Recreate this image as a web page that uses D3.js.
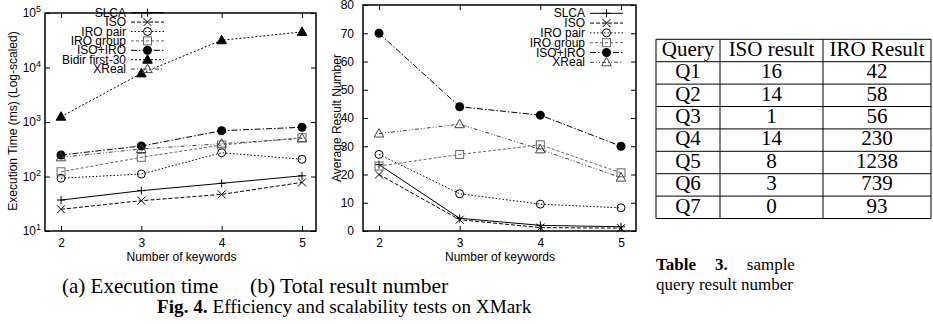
<!DOCTYPE html>
<html>
<head>
<meta charset="utf-8">
<script src="https://cdn.jsdelivr.net/npm/d3@7"></script>
<style>
  body { margin: 0; background: #fff; }
  svg { display: block; }
  .sans { font-family: "Liberation Sans", Arial, sans-serif; }
  .serif { font-family: "Liberation Serif", "Times New Roman", serif; }
</style>
</head>
<body>
<svg id="fig" width="933" height="324"></svg>
<script>
// ---- data ----
const keywords = [2, 3, 4, 5];

const seriesNames = ["SLCA", "ISO", "IRO pair", "IRO group", "ISO+IRO", "Bidir first-30", "XReal"];

// (a) execution time in ms, log scale
const timeSLCA = [37, 55, 75, 103];
const timeISO = [25, 36, 47, 78];
const timeIROpair = [93, 111, 273, 207];
const timeIROgroup = [122, 225, 378, 515];
const timeISOIRO = [248, 363, 692, 800];
const timeBidir = [1250, 7800, 31600, 45000];
const timeXReal = [225, 320, 400, 500];

// (b) average result number
const resSLCA = [23.5, 4.5, 2, 1.5];
const resISO = [20, 4, 1.2, 1];
const resIROpair = [27.1, 13.2, 9.5, 8.2];
const resIROgroup = [23, 27.1, 30.5, 20.6];
const resISOIRO = [70, 44, 41, 30];
const resXReal = [34.5, 37.8, 28.9, 18.9];

const timeTicks = [1, 2, 3, 4, 5]; // exponents of 10
const resultTicks = [0, 10, 20, 30, 40, 50, 60, 70, 80];

const tableHeader = ["Query", "ISO result", "IRO Result"];
const tableQueries = ["Q1", "Q2", "Q3", "Q4", "Q5", "Q6", "Q7"];
const tableISO = [16, 14, 1, 14, 8, 3, 0];
const tableIRO = [42, 58, 56, 230, 1238, 739, 93];

// line look per series (gnuplot style monochrome)
const styles = {
  "SLCA":           { dash: null,          color: "#000", mark: "plus" },
  "ISO":            { dash: "4,2",         color: "#000", mark: "cross" },
  "IRO pair":       { dash: "1.5,2",       color: "#000", mark: "circle" },
  "IRO group":      { dash: "3,2",         color: "#666", mark: "square" },
  "ISO+IRO":        { dash: "6,2,1.5,2",   color: "#000", mark: "disc" },
  "Bidir first-30": { dash: "2,2",         color: "#000", mark: "tri" },
  "XReal":          { dash: "4,2,1,2,1,2", color: "#444", mark: "otri" }
};

const svg = d3.select("#fig");

function drawMark(g, type, x, y, color) {
  const s = 4;
  if (type === "plus") {
    g.append("path").attr("d", `M${x - s},${y}H${x + s}M${x},${y - s}V${y + s}`)
      .attr("stroke", color).attr("stroke-width", 1).attr("fill", "none");
  } else if (type === "cross") {
    g.append("path").attr("d", `M${x - s},${y - s}L${x + s},${y + s}M${x - s},${y + s}L${x + s},${y - s}`)
      .attr("stroke", color).attr("stroke-width", 1).attr("fill", "none");
  } else if (type === "circle") {
    g.append("circle").attr("cx", x).attr("cy", y).attr("r", 4)
      .attr("stroke", color).attr("stroke-width", 1).attr("fill", "none");
  } else if (type === "disc") {
    g.append("circle").attr("cx", x).attr("cy", y).attr("r", 4.5).attr("fill", "#000");
  } else if (type === "square") {
    g.append("rect").attr("x", x - 4).attr("y", y - 4).attr("width", 8).attr("height", 8)
      .attr("stroke", color).attr("stroke-width", 1).attr("fill", "none");
  } else if (type === "tri" || type === "otri") {
    const p = `M${x},${y - 5}L${x + 4.8},${y + 3.5}L${x - 4.8},${y + 3.5}Z`;
    g.append("path").attr("d", p)
      .attr("fill", type === "tri" ? "#000" : "none")
      .attr("stroke", type === "tri" ? "#000" : color).attr("stroke-width", 1);
  }
}

function drawChart(opt) {
  const g = svg.append("g");
  const { x, y, frame } = opt;

  // ticks, mirrored on all four sides, pointing inward
  const ax = g.append("g").attr("transform", `translate(0,${frame.bottom})`)
    .call(d3.axisBottom(x).tickValues(keywords).tickSize(-5).tickFormat(d3.format("d")));
  const axTop = g.append("g").attr("transform", `translate(0,${frame.top})`)
    .call(d3.axisTop(x).tickValues(keywords).tickSize(-5).tickFormat(""));
  const ay = g.append("g").attr("transform", `translate(${frame.left},0)`)
    .call(d3.axisLeft(y).tickValues(opt.yTicks).tickSize(-5).tickFormat(opt.tickFormat || ""));
  const ayR = g.append("g").attr("transform", `translate(${frame.right},0)`)
    .call(d3.axisRight(y).tickValues(opt.yTicks).tickSize(-5).tickFormat(""));
  [ax, axTop, ay, ayR].forEach(a => {
    a.select(".domain").remove();
    a.selectAll("line").attr("stroke", "#000");
  });
  ax.selectAll("text").attr("class", "sans").attr("font-size", 12).attr("dy", null).attr("y", 16).attr("fill", "#000");
  ay.selectAll("text").attr("class", "sans").attr("font-size", 12).attr("x", -9).attr("fill", "#000");

  if (opt.logLabels) {
    opt.yTicks.forEach(v => {
      const t = g.append("text").attr("class", "sans").attr("font-size", 12)
        .attr("text-anchor", "end").attr("x", frame.left - 4).attr("y", y(v) + 4);
      t.append("tspan").text("10");
      t.append("tspan").attr("font-size", 9).attr("dy", -5).text(Math.round(Math.log10(v)));
    });
  }

  // series
  opt.series.forEach(s => {
    const st = styles[s.name];
    const line = d3.line().x((d, i) => x(keywords[i])).y(d => y(d));
    g.append("path").attr("d", line(s.values)).attr("fill", "none")
      .attr("stroke", st.color).attr("stroke-width", 1)
      .attr("stroke-dasharray", st.dash);
    s.values.forEach((v, i) => drawMark(g, st.mark, x(keywords[i]), y(v), st.color));
  });

  // legend
  opt.series.forEach((s, i) => {
    const st = styles[s.name];
    const ly = opt.legend.y + i * opt.legend.step;
    g.append("text").attr("class", "sans").attr("font-size", 12).attr("text-anchor", "end")
      .attr("x", opt.legend.x).attr("y", ly + 4).text(s.name);
    g.append("line").attr("x1", opt.legend.x + 5).attr("x2", opt.legend.x + 38)
      .attr("y1", ly).attr("y2", ly).attr("stroke", st.color).attr("stroke-width", 1)
      .attr("stroke-dasharray", st.dash);
    drawMark(g, st.mark, opt.legend.x + 21.5, ly, st.color);
  });

  // frame
  g.append("rect").attr("x", frame.left).attr("y", frame.top)
    .attr("width", frame.right - frame.left).attr("height", frame.bottom - frame.top)
    .attr("fill", "none").attr("stroke", "#000").attr("stroke-width", 1.5);

  // axis titles
  g.append("text").attr("class", "sans").attr("font-size", 12).attr("text-anchor", "middle")
    .attr("x", (x(2) + x(5)) / 2).attr("y", frame.bottom + 30).text("Number of keywords");
  g.append("text").attr("class", "sans").attr("font-size", 12).attr("text-anchor", "middle")
    .attr("transform", `translate(${opt.yTitle.x},${opt.yTitle.y}) rotate(-90)`).text(opt.yTitle.text);
}

// (a)
const xA = d3.scaleLinear().domain([2, 5]).range([61, 302]);
const yA = d3.scaleLog().domain([10, 1e5]).range([231, 13]);
drawChart({
  x: xA, y: yA,
  frame: { left: 45, right: 316, top: 13, bottom: 231 },
  yTicks: timeTicks.map(e => Math.pow(10, e)),
  logLabels: true,
  series: [
    { name: "SLCA", values: timeSLCA },
    { name: "ISO", values: timeISO },
    { name: "IRO pair", values: timeIROpair },
    { name: "IRO group", values: timeIROgroup },
    { name: "ISO+IRO", values: timeISOIRO },
    { name: "Bidir first-30", values: timeBidir },
    { name: "XReal", values: timeXReal }
  ],
  legend: { x: 126, y: 12.7, step: 9.4 },
  yTitle: { x: 17, y: 121, text: "Execution Time (ms) (Log-scaled)" }
});

// (b)
const xB = d3.scaleLinear().domain([2, 5]).range([379, 621]);
const yB = d3.scaleLinear().domain([0, 80]).range([231, 5]);
drawChart({
  x: xB, y: yB,
  frame: { left: 363, right: 636, top: 5, bottom: 231 },
  yTicks: resultTicks,
  tickFormat: d3.format("d"),
  series: [
    { name: "SLCA", values: resSLCA },
    { name: "ISO", values: resISO },
    { name: "IRO pair", values: resIROpair },
    { name: "IRO group", values: resIROgroup },
    { name: "ISO+IRO", values: resISOIRO },
    { name: "XReal", values: resXReal }
  ],
  legend: { x: 585, y: 13.3, step: 9.8 },
  yTitle: { x: 341, y: 118, text: "Average Result Number" }
});

// captions
svg.append("text").attr("class", "serif").attr("font-size", 21).attr("x", 62).attr("y", 293)
  .text("(a) Execution time");
svg.append("text").attr("class", "serif").attr("font-size", 21.5).attr("x", 250).attr("y", 293)
  .text("(b) Total result number");
const fig = svg.append("text").attr("class", "serif").attr("font-size", 19.2).attr("x", 157).attr("y", 313);
fig.append("tspan").attr("font-weight", "bold").text("Fig. 4.");
fig.append("tspan").text(" Efficiency and scalability tests on XMark");

// table
const colX = [656, 720, 823, 931];
const rowTop = 39.3, rowH = 22.4;
const tg = svg.append("g");
const rows = [tableHeader].concat(tableQueries.map((q, i) => [q, String(tableISO[i]), String(tableIRO[i])]));
rows.forEach((r, ri) => {
  r.forEach((c, ci) => {
    tg.append("text").attr("class", "serif").attr("font-size", 21).attr("text-anchor", "middle")
      .attr("x", (colX[ci] + colX[ci + 1]) / 2).attr("y", rowTop + ri * rowH + 16.5).text(c);
  });
});
for (let i = 0; i <= rows.length; i++) {
  tg.append("line").attr("x1", colX[0]).attr("x2", colX[3])
    .attr("y1", rowTop + i * rowH).attr("y2", rowTop + i * rowH)
    .attr("stroke", "#000").attr("stroke-width", 1);
}
colX.forEach(cx => {
  tg.append("line").attr("x1", cx).attr("x2", cx).attr("y1", rowTop).attr("y2", rowTop + rows.length * rowH)
    .attr("stroke", "#000").attr("stroke-width", 1);
});

// table caption
const tc1 = svg.append("text").attr("class", "serif").attr("font-size", 17).attr("x", 656).attr("y", 270);
tc1.append("tspan").attr("font-weight", "bold").text("Table");
tc1.append("tspan").attr("font-weight", "bold").attr("dx", 19).text("3.");
tc1.append("tspan").attr("dx", 19).text("sample");
svg.append("text").attr("class", "serif").attr("font-size", 17).attr("x", 656).attr("y", 290)
  .text("query result number");
</script>
</body>
</html>
